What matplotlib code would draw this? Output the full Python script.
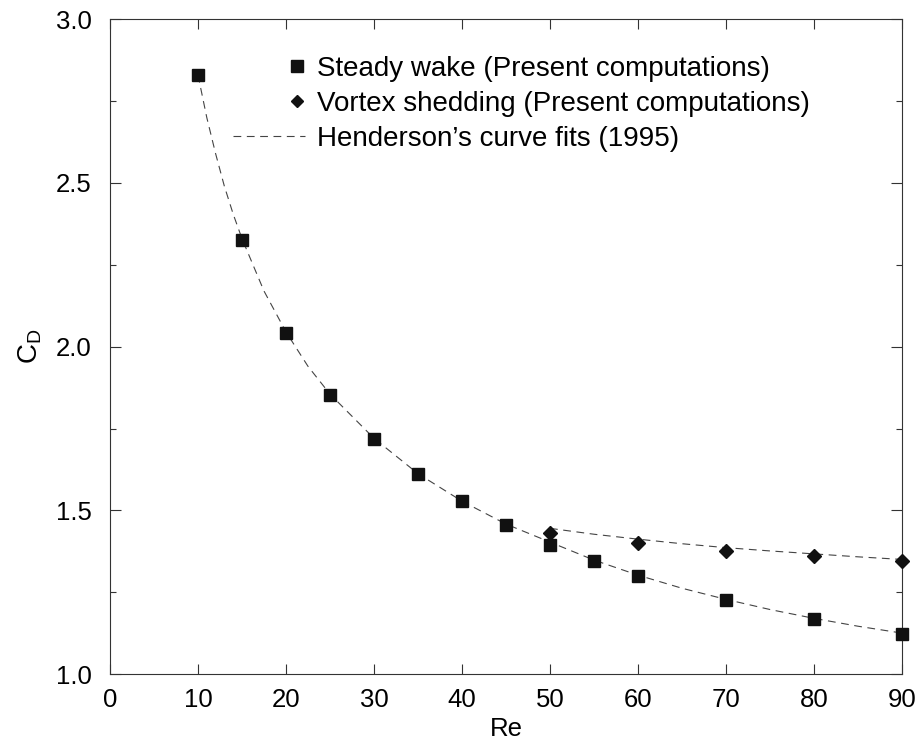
import matplotlib
matplotlib.use("Agg")
import matplotlib.pyplot as plt
from matplotlib.legend_handler import HandlerLine2D
from matplotlib.lines import Line2D

plt.rcParams['font.family'] = ['Liberation Sans', 'DejaVu Sans']
plt.rcParams['mathtext.fontset'] = 'custom'
plt.rcParams['mathtext.rm'] = 'Liberation Sans'
plt.rcParams['mathtext.it'] = 'Liberation Sans'

# --- data ---
re_steady = [10, 15, 20, 25, 30, 35, 40, 45, 50, 55, 60, 70, 80, 90]
cd_steady = [2.83, 2.326, 2.041, 1.853, 1.718, 1.610, 1.528, 1.455, 1.393,
             1.345, 1.300, 1.225, 1.167, 1.121]

re_shed = [50, 60, 70, 80, 90]
cd_shed = [1.430, 1.401, 1.376, 1.359, 1.345]

# Henderson's curve fits
re_fit_steady = [10, 11, 12, 13, 14, 15, 17.5, 20, 22.5, 25, 30, 35, 40, 45,
                 50, 55, 60, 65, 70, 75, 80, 85, 90]
cd_fit_steady = [2.83, 2.70, 2.59, 2.49, 2.405, 2.33, 2.17, 2.045, 1.94, 1.855,
                 1.72, 1.612, 1.528, 1.458, 1.403, 1.348, 1.302, 1.262, 1.228,
                 1.197, 1.170, 1.146, 1.125]
re_fit_shed = [50, 55, 60, 65, 70, 75, 80, 85, 90]
cd_fit_shed = [1.445, 1.427, 1.412, 1.398, 1.386, 1.376, 1.367, 1.358, 1.350]

xticks = [0, 10, 20, 30, 40, 50, 60, 70, 80, 90]
yticks = [1.0, 1.5, 2.0, 2.5, 3.0]

labels = ['Steady wake (Present computations)',
          'Vortex shedding (Present computations)',
          "Henderson\u2019s curve fits (1995)"]


class RightMarkerHandler(HandlerLine2D):
    # single marker at the right end of the key, no line
    def create_artists(self, legend, orig_handle, xdescent, ydescent,
                       width, height, fontsize, trans):
        x = -xdescent + width - 0.3 * fontsize
        y = (height - ydescent) / 2
        m = Line2D([x], [y])
        self.update_prop(m, orig_handle, legend)
        m.set_linestyle('none')
        m.set_transform(trans)
        return [m]


fig = plt.figure(figsize=(9.21, 7.48), dpi=100)
ax = fig.add_axes([0.1194, 0.0989, 0.8600, 0.8753])

line_kw = dict(color='#444444', lw=0.8, dashes=(7, 5))
ax.plot(re_fit_steady, cd_fit_steady, **line_kw)
ax.plot(re_fit_shed, cd_fit_shed, **line_kw)

ax.plot(re_steady, cd_steady, ls='none', marker='s', ms=8.5,
        color='#111111', mec='#111111', clip_on=False, zorder=3)
ax.plot(re_shed, cd_shed, ls='none', marker='D', ms=7.5,
        color='#111111', mec='#111111', clip_on=False, zorder=3)

ax.set_xlim(0, 90)
ax.set_ylim(1.0, 3.0)
ax.set_xticks(xticks)
ax.set_yticks(yticks)
ax.set_yticks([1.25, 1.75, 2.25, 2.75], minor=True)
ax.set_yticklabels([f'{v:.1f}' for v in yticks])

ax.tick_params(axis='both', which='both', direction='in', top=True, right=True,
               labelsize=18.5, color='#333333', width=0.8)
ax.tick_params(axis='x', which='major', length=7, pad=10)
ax.tick_params(axis='y', which='major', length=8, pad=13)
ax.tick_params(axis='y', which='minor', length=4)
for sp in ax.spines.values():
    sp.set_color('#333333')
    sp.set_linewidth(0.8)

ax.set_xlabel('Re', fontsize=18.5, labelpad=4)
ax.set_ylabel(r'$\mathregular{C_D}$', fontsize=20, labelpad=9)

h_sq = Line2D([], [], ls='none', marker='s', ms=8, color='#111111')
h_di = Line2D([], [], ls='none', marker='D', ms=6.5, color='#111111')
h_ln = Line2D([], [], **line_kw)
handler = RightMarkerHandler()
ax.legend([h_sq, h_di, h_ln], labels, loc='upper left',
          bbox_to_anchor=(0.155, 0.944), frameon=False, fontsize=20,
          handlelength=2.6, handletextpad=0.43, labelspacing=0.32,
          borderpad=0, borderaxespad=0,
          handler_map={h_sq: handler, h_di: handler})

fig.savefig('out.png', dpi=100)
